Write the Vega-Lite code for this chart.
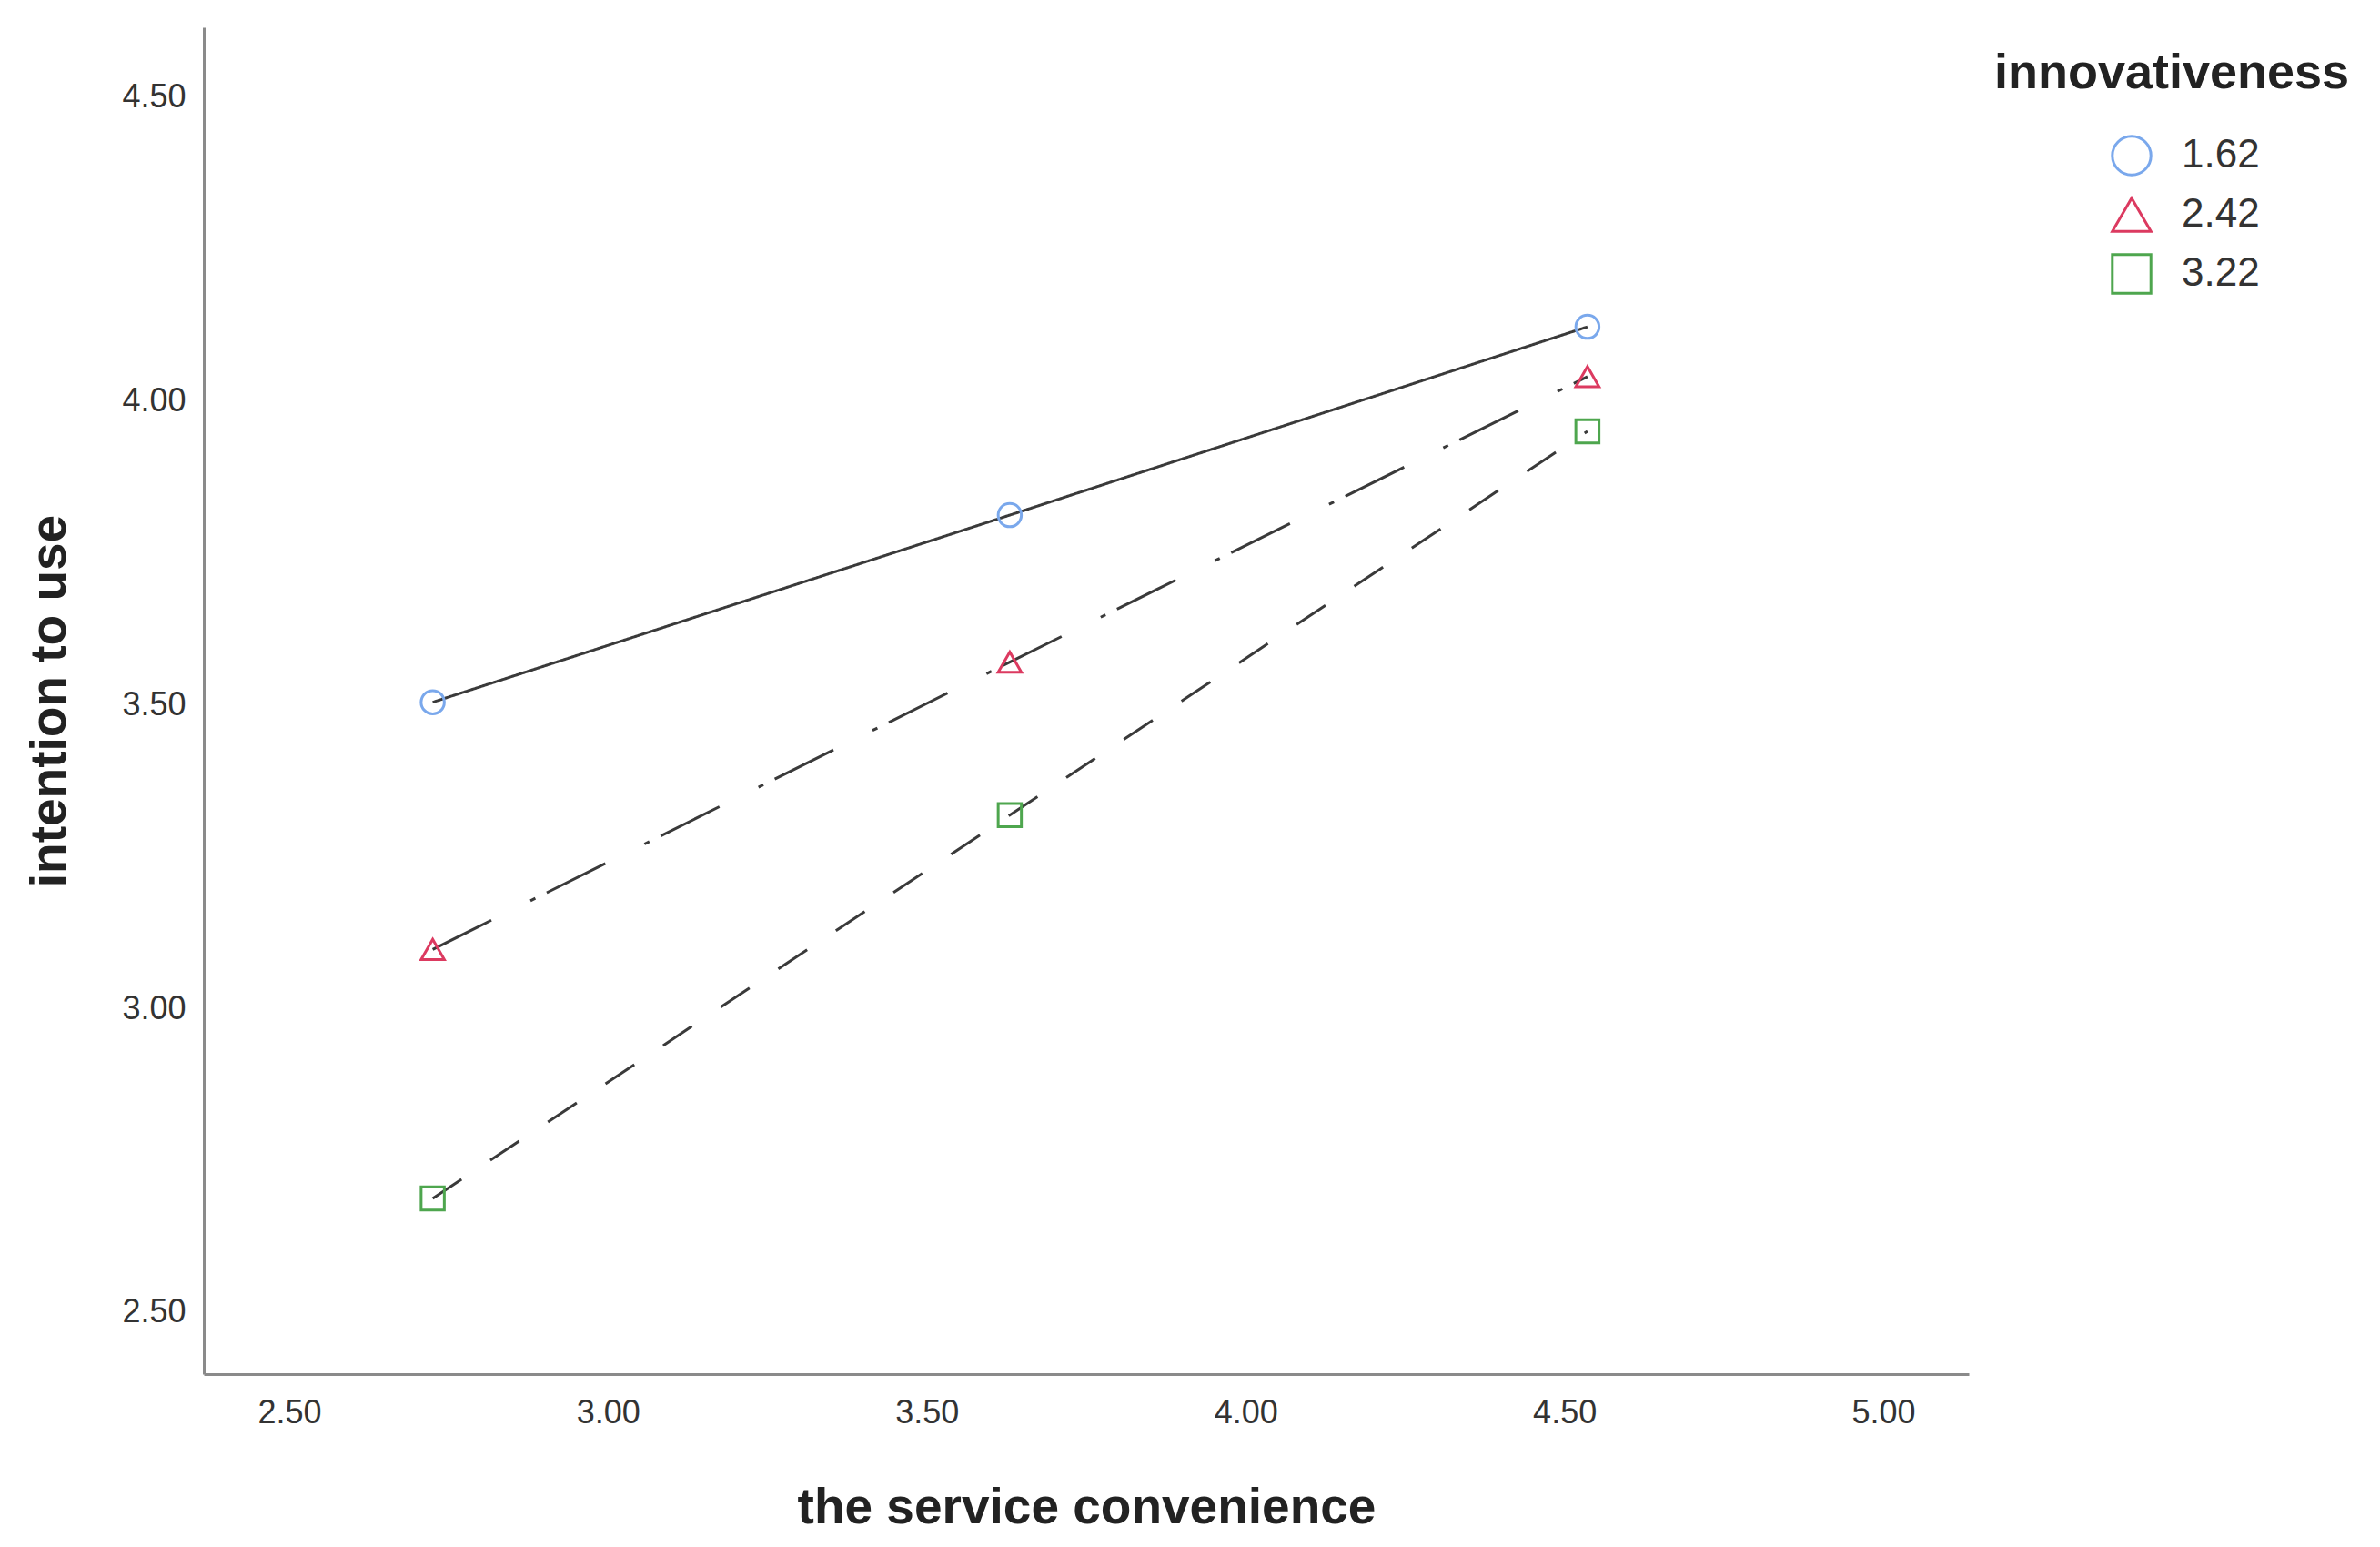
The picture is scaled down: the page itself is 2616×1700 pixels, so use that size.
{
  "$schema": "https://vega.github.io/schema/vega-lite/v6.json",
  "width": 1940,
  "height": 1480,
  "autosize": {"type": "none"},
  "padding": {"left": 224, "top": 30, "right": 452, "bottom": 190},
  "background": "white",
  "config": {
    "view": {"stroke": null},
    "font": "Liberation Sans",
    "axis": {
      "domainColor": "#8a8a8a",
      "domainWidth": 3,
      "ticks": false,
      "grid": false,
      "labelFont": "Liberation Sans",
      "labelFontSize": 36,
      "labelColor": "#333333",
      "titleFont": "Liberation Sans",
      "titleFontSize": 55,
      "titleFontWeight": "bold",
      "titleColor": "#222222"
    },
    "legend": {
      "orient": "right",
      "offset": 4,
      "padding": 24,
      "titleFont": "Liberation Sans",
      "titleFontSize": 54,
      "titleFontWeight": "bold",
      "titleColor": "#222222",
      "titleLimit": 600,
      "titlePadding": 40,
      "labelFont": "Liberation Sans",
      "labelFontSize": 44,
      "labelColor": "#333333",
      "symbolSize": 1800,
      "symbolStrokeWidth": 3,
      "symbolOffset": 128,
      "labelOffset": 32,
      "rowPadding": 12
    }
  },
  "data": {
    "values": [
      {"convenience": 2.725, "intention": 3.504, "innovativeness": "1.62"},
      {"convenience": 3.630, "intention": 3.812, "innovativeness": "1.62"},
      {"convenience": 4.536, "intention": 4.122, "innovativeness": "1.62"},
      {"convenience": 2.725, "intention": 3.097, "innovativeness": "2.42"},
      {"convenience": 3.630, "intention": 3.570, "innovativeness": "2.42"},
      {"convenience": 4.536, "intention": 4.040, "innovativeness": "2.42"},
      {"convenience": 2.725, "intention": 2.687, "innovativeness": "3.22"},
      {"convenience": 3.630, "intention": 3.318, "innovativeness": "3.22"},
      {"convenience": 4.536, "intention": 3.950, "innovativeness": "3.22"}
    ]
  },
  "encoding": {
    "x": {
      "field": "convenience",
      "type": "quantitative",
      "title": "the service convenience",
      "scale": {"domain": [2.366, 5.134], "nice": false, "zero": false},
      "axis": {"values": [2.5, 3, 3.5, 4, 4.5, 5], "format": ".2f", "labelPadding": 25, "titlePadding": 60, "labelFlush": false}
    },
    "y": {
      "field": "intention",
      "type": "quantitative",
      "title": "intention to use",
      "scale": {"domain": [2.398, 4.615], "nice": false, "zero": false},
      "axis": {"values": [2.5, 3, 3.5, 4, 4.5], "format": ".2f", "labelPadding": 20, "titlePadding": 50, "labelFlush": false}
    }
  },
  "layer": [
    {
      "mark": {"type": "line", "color": "#3a3a3a", "strokeWidth": 3},
      "encoding": {
        "detail": {"field": "innovativeness", "type": "nominal"},
        "strokeDash": {
          "field": "innovativeness",
          "type": "nominal",
          "scale": {"range": [[1, 0], [72, 48, 6, 14], [38, 38]]},
          "legend": null
        }
      }
    },
    {
      "mark": {"type": "point", "filled": false, "size": 650, "strokeWidth": 3, "opacity": 1},
      "encoding": {
        "color": {
          "field": "innovativeness",
          "type": "nominal",
          "title": "innovativeness",
          "scale": {"domain": ["1.62", "2.42", "3.22"], "range": ["#7aa8ec", "#dc3a60", "#4ea64e"]}
        },
        "shape": {
          "field": "innovativeness",
          "type": "nominal",
          "title": "innovativeness",
          "scale": {"domain": ["1.62", "2.42", "3.22"], "range": ["circle", "triangle-up", "square"]}
        }
      }
    }
  ]
}
